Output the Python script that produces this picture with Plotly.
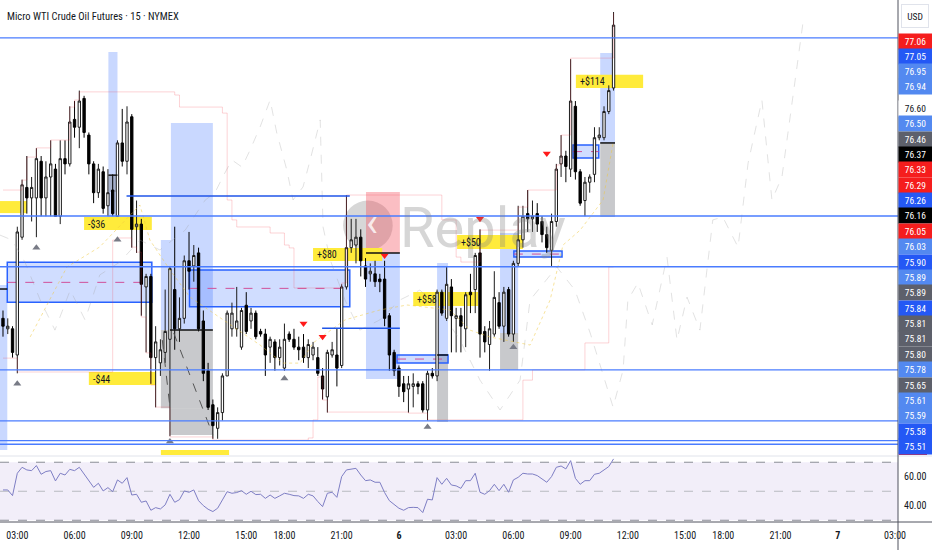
import plotly.graph_objects as go

# ---------------- data ----------------
title_text = "Micro WTI Crude Oil Futures · 15 · NYMEX"

opens = [75.98, 75.94, 75.94, 75.84, 76.29, 76.48, 76.44, 76.44, 76.58, 76.44,
         76.52, 76.55, 76.37, 76.59, 76.57, 76.74, 76.71, 76.82, 76.68, 76.57,
         76.46, 76.54, 76.41, 76.47, 76.37, 76.65, 76.58, 76.75, 76.33, 76.34,
         76.10, 76.14, 75.83, 75.81, 75.85, 75.90, 76.09, 75.94, 75.98, 76.20,
         76.18, 76.23, 75.97, 75.78, 75.65, 75.56, 75.62, 75.76, 75.94, 75.94,
         75.87, 76.03, 75.97, 76.00, 75.93, 75.92, 75.87, 75.89, 75.83, 75.79,
         75.92, 75.90, 75.87, 75.87, 75.83, 75.84, 75.83, 75.76, 75.68, 75.84,
         75.84, 75.80, 76.10, 76.25, 76.26, 76.29, 76.18, 76.15, 76.15, 76.13,
         76.13, 75.99, 75.85, 75.79, 75.73, 75.71, 75.72, 75.73, 75.73, 75.63,
         75.77, 75.76, 76.08, 75.98, 76.10, 75.98, 75.99, 75.94, 76.08, 76.09,
         76.23, 75.93, 75.88, 75.92, 76.04, 75.95, 76.09, 75.92, 76.19, 76.28,
         76.38, 76.36, 76.38, 76.35, 76.30, 76.24, 76.35, 76.57, 76.60, 76.55,
         76.79, 76.54, 76.43, 76.50, 76.53, 76.67, 76.67, 76.77, 76.86]
highs = [76.01, 75.98, 75.95, 76.33, 76.51, 76.60, 76.52, 76.63, 76.60, 76.58,
         76.66, 76.57, 76.66, 76.66, 76.79, 76.81, 76.85, 76.83, 76.69, 76.58,
         76.57, 76.56, 76.55, 76.53, 76.66, 76.78, 76.79, 76.76, 76.43, 76.36,
         76.15, 76.15, 75.95, 75.90, 76.09, 76.18, 76.33, 76.06, 76.22, 76.31,
         76.26, 76.25, 76.01, 75.81, 75.67, 75.64, 75.77, 76.01, 76.04, 76.10,
         76.02, 76.08, 76.02, 76.01, 75.94, 75.94, 75.91, 75.90, 75.90, 75.96,
         75.93, 75.94, 75.91, 75.92, 75.90, 75.89, 75.87, 75.79, 75.86, 75.89,
         75.94, 76.11, 76.45, 76.36, 76.36, 76.32, 76.21, 76.19, 76.20, 76.15,
         76.20, 76.00, 75.86, 75.80, 75.76, 75.76, 75.77, 75.74, 75.74, 75.78,
         75.79, 76.09, 76.09, 76.18, 76.13, 76.02, 76.02, 76.08, 76.15, 76.23,
         76.32, 75.95, 75.97, 76.16, 76.08, 76.10, 76.10, 76.20, 76.41, 76.41,
         76.47, 76.43, 76.42, 76.37, 76.33, 76.38, 76.57, 76.68, 76.62, 76.97,
         76.81, 76.55, 76.52, 76.53, 76.71, 76.71, 76.79, 76.87, 77.15]
lows = [75.91, 75.92, 75.83, 75.77, 76.28, 76.38, 76.35, 76.29, 76.37, 76.37,
        76.37, 76.37, 76.34, 76.53, 76.56, 76.67, 76.63, 76.67, 76.53, 76.42,
        76.44, 76.38, 76.37, 76.37, 76.37, 76.56, 76.53, 76.25, 76.23, 75.99,
        75.85, 75.73, 75.64, 75.76, 75.81, 75.53, 75.86, 75.89, 75.96, 76.09,
        76.12, 75.93, 75.74, 75.63, 75.52, 75.52, 75.59, 75.76, 75.91, 75.91,
        75.86, 75.92, 75.94, 75.90, 75.91, 75.76, 75.81, 75.78, 75.80, 75.78,
        75.89, 75.86, 75.82, 75.81, 75.79, 75.82, 75.76, 75.67, 75.62, 75.83,
        75.72, 75.79, 76.09, 76.23, 76.19, 76.14, 76.10, 76.12, 76.10, 76.08,
        75.95, 75.78, 75.76, 75.68, 75.66, 75.62, 75.64, 75.69, 75.62, 75.59,
        75.75, 75.74, 75.99, 75.97, 75.85, 75.85, 75.85, 75.87, 76.00, 76.00,
        75.83, 75.85, 75.78, 75.91, 75.94, 75.89, 75.91, 75.89, 76.18, 76.25,
        76.31, 76.31, 76.31, 76.27, 76.23, 76.18, 76.33, 76.52, 76.50, 76.52,
        76.51, 76.41, 76.37, 76.46, 76.50, 76.66, 76.66, 76.76, 76.85]
closes = [75.95, 75.95, 75.85, 76.31, 76.49, 76.44, 76.48, 76.59, 76.44, 76.52,
          76.57, 76.37, 76.59, 76.57, 76.73, 76.71, 76.81, 76.69, 76.57, 76.46,
          76.55, 76.40, 76.46, 76.38, 76.65, 76.58, 76.73, 76.32, 76.34, 76.11,
          76.14, 75.83, 75.89, 75.86, 75.93, 76.17, 75.94, 75.98, 76.20, 76.16,
          76.22, 75.94, 75.77, 75.64, 75.57, 75.62, 75.76, 76.00, 76.00, 75.97,
          76.01, 75.93, 76.00, 75.91, 75.92, 75.84, 75.90, 75.83, 75.87, 75.90,
          75.90, 75.87, 75.86, 75.83, 75.88, 75.87, 75.77, 75.71, 75.85, 75.86,
          75.79, 76.10, 76.25, 76.28, 76.29, 76.20, 76.13, 76.16, 76.12, 76.12,
          75.98, 75.84, 75.78, 75.72, 75.70, 75.73, 75.73, 75.72, 75.63, 75.77,
          75.76, 76.08, 76.00, 76.11, 75.99, 75.99, 75.95, 76.07, 76.07, 76.22,
          75.92, 75.89, 75.94, 76.06, 75.95, 76.08, 75.92, 76.19, 76.28, 76.37,
          76.36, 76.37, 76.34, 76.30, 76.25, 76.35, 76.55, 76.60, 76.56, 76.81,
          76.54, 76.42, 76.50, 76.52, 76.67, 76.68, 76.77, 76.85, 77.10]

rsi = [50.9, 50.9, 47.0, 62.4, 66.5, 64.7, 64.2, 67.7, 61.7, 63.6,
       64.2, 57.1, 62.4, 61.2, 65.1, 64.2, 66.5, 61.9, 57.3, 52.7,
       55.5, 50.2, 52.5, 49.7, 57.8, 55.5, 59.4, 47.4, 47.9, 42.4,
       43.3, 36.9, 38.7, 37.8, 40.6, 47.9, 42.4, 44.2, 50.2, 49.3,
       50.9, 43.5, 40.1, 37.6, 36.0, 38.3, 44.0, 49.7, 48.6, 49.1,
       50.4, 47.9, 50.0, 47.7, 47.9, 45.1, 47.4, 45.1, 46.8, 48.6,
       47.9, 47.0, 46.8, 45.1, 47.9, 46.8, 42.9, 39.4, 48.6, 49.3,
       45.8, 60.1, 64.7, 65.1, 65.8, 61.2, 57.3, 57.8, 56.2, 56.2,
       49.1, 43.5, 40.6, 38.3, 36.9, 38.7, 38.9, 38.7, 35.3, 44.5,
       44.0, 59.4, 54.8, 58.9, 54.3, 53.7, 52.0, 57.3, 57.3, 62.4,
       49.3, 47.9, 50.4, 54.8, 50.4, 54.8, 49.3, 57.8, 59.6, 62.4,
       61.9, 61.9, 60.8, 58.5, 56.2, 60.1, 66.5, 67.4, 65.4, 71.1,
       58.9, 54.8, 57.3, 57.3, 61.7, 62.4, 64.7, 67.0, 72.3]

tick_idx = [3, 15, 27, 39, 51, 59, 71, 83, 95, 107, 119, 131, 143, 151, 163, 175, 187]
tick_text = ["03:00", "06:00", "09:00", "12:00", "15:00", "18:00", "21:00", "<b>6</b>",
             "03:00", "06:00", "09:00", "12:00", "15:00", "18:00", "21:00", "<b>7</b>", "03:00"]

# channel (upper / lower) step points
upper_idx = [0, 4, 5, 7, 10, 14, 15, 16, 36, 37, 46, 47, 48, 49, 56, 59, 60, 61, 71, 72,
             92, 95, 96, 100, 108, 110, 116, 117, 119, 128]
upper_val = [76.470, 76.508, 76.596, 76.631, 76.661, 76.787, 76.814, 76.845, 76.833, 76.787,
             76.764, 76.432, 76.356, 76.329, 76.306, 76.260, 76.249, 76.096, 76.115, 76.451,
             76.356, 76.214, 76.195, 76.317, 76.405, 76.470, 76.566, 76.680, 76.974, 77.146]
lower_idx = [0, 3, 23, 24, 27, 28, 29, 30, 31, 32, 35, 44, 64, 65, 66, 67, 68, 85, 89,
             109, 111, 122, 127, 128]
lower_val = [75.828, 75.775, 76.279, 76.287, 76.252, 76.233, 75.985, 75.848, 75.725, 75.641,
             75.527, 75.515, 75.523, 75.592, 75.756, 75.668, 75.622, 75.618, 75.592,
             75.744, 75.783, 75.886, 76.176, 76.176]

# faint dashed "ghost" path
ghost_idx = [-0.63, 1.9, 4.6, 7.8, 10.9, 14.1, 17.2, 20.3, 24.5, 28.7, 32.9, 38.2, 42.4, 44.4,
             46.5, 48.0, 50.1, 51.8, 53.9, 56.0, 57.4, 59.5, 60.8, 62.9, 64.4, 66.5, 67.1, 68.6,
             71.7, 74.8, 79.0, 83.2, 87.4, 91.6, 95.8, 100.0, 104.2, 108.4, 110.5, 116.1, 119.9,
             123.1, 127.9, 130.0, 131.0, 133.1, 136.1, 139.2, 141.3, 143.4, 146.1, 148.8, 150.9,
             154.1, 156.2, 159.1, 161.2, 163.3, 167.7]
ghost_val = [76.298, 76.279, 76.195, 76.050, 75.935, 76.088, 75.974, 76.146, 76.195, 76.279,
             76.241, 76.317, 76.432, 76.459, 76.535, 76.585, 76.558, 76.623, 76.711, 76.814,
             76.688, 76.547, 76.432, 76.482, 76.585, 76.738, 76.329, 76.203, 76.050, 75.935,
             75.974, 76.050, 76.088, 76.012, 75.897, 75.744, 75.630, 75.744, 76.050, 76.176,
             76.088, 75.924, 75.641, 75.783, 76.050, 76.115, 75.955, 76.214, 75.897, 76.061,
             75.935, 76.356, 76.367, 76.252, 76.573, 76.814, 76.432, 76.520, 77.108]

# faint yellow dotted average
avg_idx = [5.7, 13.4, 20.3, 28.7, 30.8, 35.0, 39.2, 48.2, 53.9, 58.7, 62.3, 65.0, 71.7, 79.0,
           84.7, 93.7, 97.9, 102.1, 110.5, 114.7, 117.4, 121.0, 125.8, 127.9]
avg_val = [75.909, 76.176, 76.253, 76.413, 76.279, 76.165, 76.061, 75.947, 75.878, 75.809,
           75.809, 75.886, 75.974, 76.012, 76.031, 76.012, 75.935, 75.909, 75.878, 76.050,
           76.260, 76.317, 76.432, 76.650]

# signal markers
up_sig_idx = [3, 7, 24, 35, 59, 89, 107]
up_sig_val = [75.73, 76.25, 76.28, 75.51, 75.75, 75.565, 75.87]
dn_sig_idx = [63, 67, 80, 100, 114]
dn_sig_val = [75.96, 75.91, 76.22, 76.36, 76.61]

# horizontal level lines (full width) and partial lines
levels = [77.051, 76.371, 76.177, 75.783, 75.588, 75.513, 75.499]
partial_levels = [(25.9, 72.7, 76.447), (66.9, 83.2, 75.942)]

# position-tool zones: (i0, i1, top, bottom, kind)
zones = [(-0.63, 0.9, 76.107, 75.477, "blue"),
         (22.1, 24.0, 76.997, 76.367, "blue"),
         (22.1, 24.0, 76.527, 76.463, "gray"),
         (35.2, 44.0, 76.726, 75.935, "blue"),
         (33.1, 35.2, 76.279, 75.935, "blue"),
         (33.1, 44.0, 75.935, 75.637, "gray"),
         (35.0, 44.0, 75.637, 75.534, "gray"),
         (76.1, 83.2, 76.463, 76.230, "red"),
         (76.1, 83.2, 76.230, 75.748, "blue"),
         (91.0, 93.3, 76.191, 75.840, "blue"),
         (91.0, 93.3, 75.840, 75.584, "gray"),
         (104.2, 108.0, 76.306, 75.924, "blue"),
         (104.2, 108.0, 75.924, 75.783, "gray"),
         (125.2, 128.3, 76.994, 76.650, "blue"),
         (125.2, 128.3, 76.650, 76.367, "gray")]
# outlined boxes with dashed mid line: (i0, i1, top, bottom)
boxes = [(0.9, 31.2, 76.194, 76.041),
         (39.1, 72.7, 76.165, 76.024),
         (82.6, 93.3, 75.840, 75.809),
         (107.1, 117.2, 76.237, 76.214),
         (119.5, 124.9, 76.642, 76.592)]
entry_lines = [(35.0, 44.0, 75.935), (76.1, 83.2, 76.230), (91.0, 93.3, 75.840),
               (125.2, 128.3, 76.650), (22.1, 24.0, 76.527), (-0.63, 0.9, 76.092)]
diag_lines = [(35.8, 75.924, 44.0, 75.534), (33.4, 75.897, 35.0, 75.641)]

# P&L tags: (i0, i1, top, bottom, text)
pnl_tags = [(-0.63, 5.0, 76.428, 76.382, ""),
            (17.0, 31.2, 76.367, 76.317, "-$36"),
            (18.0, 32.1, 75.775, 75.725, "-$44"),
            (65.0, 79.5, 76.249, 76.199, "+$80"),
            (95.2, 109.0, 76.298, 76.245, "+$50"),
            (86.0, 99.6, 76.081, 76.027, "+$58"),
            (120.1, 134.2, 76.910, 76.860, "+$114"),
            (33.1, 47.4, 75.477, 75.440, "")]

# right-hand price scale labels (stacked) and their colours
top_labels = ["77.06", "77.05", "76.95", "76.94"]
top_colors = ["red", "blue", "lblue", "lblue"]
stack_labels = ["76.60", "76.50", "76.46", "76.37", "76.33", "76.29", "76.26", "76.16", "76.05",
                "76.03", "75.90", "75.89", "75.89", "75.84", "75.81", "75.81", "75.80", "75.78",
                "75.65", "75.61", "75.59", "75.58", "75.51"]
stack_colors = ["white", "lblue", "gray", "black", "red", "red", "blue", "black", "red",
                "lblue", "blue", "lblue", "gray", "blue", "gray", "gray", "gray", "lblue",
                "gray", "lblue", "lblue", "blue", "blue"]

# ---------------- styling ----------------
W, H = 932, 550
ML, MR, MT, MB = 0, 34, 0, 28
PW, PH = W - ML - MR, H - MT - MB       # 898 x 522
FONT = "Liberation Sans Narrow, Arial Narrow, Roboto Condensed, Roboto, Liberation Sans, Arial"
TXT = "#131722"
BLUE = "#2962ff"
fills = {"blue": "rgba(41,98,255,0.25)", "gray": "rgba(110,112,120,0.38)",
         "red": "rgba(242,54,69,0.32)"}
lab_bg = {"red": "#f51d1d", "blue": "#2458f5", "lblue": "#5389f0", "gray": "#5d606b",
          "black": "#000000", "white": "#ffffff"}

main_bottom_px = 455
rsi_top_px = 456
X_RANGE = [-0.627, 187.63]
Y_RANGE = [75.458, 77.196]
Y2_RANGE = [28.8, 74.3]


def py(px):
    return (PH - px) / PH


def px_x(px):
    return px / PW


fig = go.Figure()
idx = list(range(len(opens)))

fig.add_trace(go.Scatter(x=ghost_idx, y=ghost_val, mode="lines",
                         line=dict(color="rgba(160,160,160,0.3)", width=1, dash="dash"),
                         hoverinfo="skip", showlegend=False))
fig.add_trace(go.Scatter(x=upper_idx, y=upper_val, mode="lines", line_shape="hv",
                         line=dict(color="rgba(242,54,69,0.22)", width=1),
                         hoverinfo="skip", showlegend=False))
fig.add_trace(go.Scatter(x=lower_idx, y=lower_val, mode="lines", line_shape="hv",
                         line=dict(color="rgba(242,54,69,0.22)", width=1),
                         hoverinfo="skip", showlegend=False))
fig.add_trace(go.Scatter(x=avg_idx, y=avg_val, mode="lines",
                         line=dict(color="rgba(240,200,60,0.5)", width=1, dash="dot"),
                         hoverinfo="skip", showlegend=False))

fig.add_trace(go.Candlestick(
    x=idx, open=opens, high=highs, low=lows, close=closes,
    increasing=dict(line=dict(color="#1c1c1c", width=1), fillcolor="#ffffff"),
    decreasing=dict(line=dict(color="#000000", width=1), fillcolor="#000000"),
    whiskerwidth=0, hoverinfo="skip", showlegend=False))

fig.add_trace(go.Scatter(x=up_sig_idx, y=up_sig_val, mode="markers",
                         marker=dict(symbol="triangle-up", size=7, color="#787b86"),
                         hoverinfo="skip", showlegend=False))
fig.add_trace(go.Scatter(x=dn_sig_idx, y=dn_sig_val, mode="markers",
                         marker=dict(symbol="triangle-down", size=7, color="#ff1a1a"),
                         hoverinfo="skip", showlegend=False))

fig.add_trace(go.Scatter(x=idx, y=rsi, mode="lines", xaxis="x", yaxis="y2",
                         line=dict(color="#7e7ec4", width=1),
                         hoverinfo="skip", showlegend=False))

shapes = []
# RSI band and levels
shapes.append(dict(type="rect", xref="paper", yref="y2", x0=0, x1=1, y0=30, y1=70,
                   fillcolor="rgba(126,87,194,0.10)", line=dict(width=0), layer="below"))
for lv, col, dsh in [(70, "#8a8d96", "dash"), (30, "#8a8d96", "dash"), (50, "#b8bac0", "dash")]:
    shapes.append(dict(type="line", xref="paper", yref="y2", x0=0, x1=1, y0=lv, y1=lv,
                       line=dict(color=col, width=1, dash=dsh), layer="below"))

# watermark logo
shapes.append(dict(type="circle", xref="x", yref="y", x0=71.3, x1=81.7, y0=76.24, y1=76.43,
                   fillcolor="rgba(140,140,140,0.35)", line=dict(width=0), layer="below"))

for (a, b, t, btm, kind) in zones:
    shapes.append(dict(type="rect", xref="x", yref="y", x0=a, x1=b, y0=btm, y1=t,
                       fillcolor=fills[kind], line=dict(width=0), layer="below"))
for (a, b, t, btm) in boxes:
    shapes.append(dict(type="rect", xref="x", yref="y", x0=a, x1=b, y0=btm, y1=t,
                       fillcolor="rgba(41,98,255,0.22)", line=dict(color=BLUE, width=1.5),
                       layer="below"))
    m = (t + btm) / 2
    shapes.append(dict(type="line", xref="x", yref="y", x0=a, x1=b, y0=m, y1=m,
                       line=dict(color="#d0509a", width=1, dash="dash"), layer="below"))
for (a, b, t, btm, txt) in pnl_tags:
    shapes.append(dict(type="rect", xref="x", yref="y", x0=a, x1=b, y0=btm, y1=t,
                       fillcolor="#ffeb3b", line=dict(width=0), layer="below"))
for (a, b, lv) in entry_lines:
    shapes.append(dict(type="line", xref="x", yref="y", x0=a, x1=b, y0=lv, y1=lv,
                       line=dict(color="#111111", width=1.5), layer="above"))
for (a, pa, b, pb) in diag_lines:
    shapes.append(dict(type="line", xref="x", yref="y", x0=a, x1=b, y0=pa, y1=pb,
                       line=dict(color="#555555", width=1, dash="dash"), layer="above"))
for lv in levels:
    shapes.append(dict(type="line", xref="paper", yref="y", x0=0, x1=1, y0=lv, y1=lv,
                       line=dict(color="#4a7cff", width=1.3), layer="above"))
for (a, b, lv) in partial_levels:
    shapes.append(dict(type="line", xref="x", yref="y", x0=a, x1=b, y0=lv, y1=lv,
                       line=dict(color="#1f55e8", width=1.5), layer="above"))

# frame lines
shapes.append(dict(type="line", xref="paper", yref="paper", x0=0, x1=W / PW,
                   y0=py(rsi_top_px), y1=py(rsi_top_px), line=dict(color="#e0e3eb", width=1)))
shapes.append(dict(type="line", xref="paper", yref="paper", x0=0, x1=W / PW, y0=0, y1=0,
                   line=dict(color="#50535e", width=1)))
shapes.append(dict(type="line", xref="paper", yref="paper", x0=1, x1=1, y0=-MB / PH, y1=1,
                   line=dict(color="#50535e", width=1)))
shapes.append(dict(type="rect", xref="paper", yref="paper", x0=1.001, x1=px_x(927),
                   y0=py(455), y1=py(452), fillcolor="#f51d1d", line=dict(width=0)))

annotations = []
annotations.append(dict(text=title_text, xref="paper", yref="paper", x=px_x(5), y=py(16),
                        xanchor="left", yanchor="middle", showarrow=False,
                        font=dict(family=FONT, size=10.5, color=TXT)))
annotations.append(dict(text="USD", xref="paper", yref="paper", x=px_x(915), y=py(16),
                        xanchor="center", yanchor="middle", showarrow=False,
                        bordercolor="#e0e3eb", borderwidth=1, bgcolor="#ffffff",
                        width=24, height=20, font=dict(family=FONT, size=9.5, color=TXT)))
annotations.append(dict(text="Replay", xref="x", yref="y", x=82.9, y=76.325,
                        xanchor="left", yanchor="middle", showarrow=False,
                        font=dict(family="Roboto, Liberation Sans", size=56,
                                  color="rgba(130,130,130,0.33)")))
annotations.append(dict(text="‹", xref="x", yref="y", x=77.4, y=76.345,
                        xanchor="center", yanchor="middle", showarrow=False,
                        font=dict(family="Roboto", size=40, color="rgba(255,255,255,0.8)")))

for (a, b, t, btm, txt) in pnl_tags:
    if txt:
        annotations.append(dict(text=txt, xref="x", yref="y", x=a + 0.4, y=(t + btm) / 2,
                                xanchor="left", yanchor="middle", showarrow=False,
                                font=dict(family=FONT, size=10, color=TXT)))


def add_label(text, colkey, ypx):
    annotations.append(dict(text=text, xref="paper", yref="paper", x=1.0, y=py(ypx),
                            xanchor="left", yanchor="middle", showarrow=False,
                            bgcolor=lab_bg[colkey], width=31, height=13, borderpad=1,
                            font=dict(family=FONT, size=9.5,
                                      color=TXT if colkey == "white" else "#ffffff")))


for k, (t, c) in enumerate(zip(top_labels, top_colors)):
    add_label(t, c, 41.7 + 15.0 * k)
for k, (t, c) in enumerate(zip(stack_labels, stack_colors)):
    add_label(t, c, 108.3 + 15.38 * k)

fig.update_layout(
    width=W, height=H, margin=dict(l=ML, r=MR, t=MT, b=MB),
    paper_bgcolor="#ffffff", plot_bgcolor="#ffffff",
    showlegend=False, hovermode=False,
    font=dict(family=FONT, size=10, color=TXT),
    xaxis=dict(domain=[0, 1], range=X_RANGE, anchor="y2", tickmode="array",
               tickvals=tick_idx, ticktext=tick_text, showgrid=False, zeroline=False,
               showline=False, ticks="", ticklabelstandoff=6,
               tickfont=dict(family=FONT, size=10, color=TXT),
               rangeslider=dict(visible=False), fixedrange=True),
    yaxis=dict(domain=[py(main_bottom_px), 1], range=Y_RANGE, showgrid=False,
               zeroline=False, showticklabels=False, showline=False, ticks="",
               fixedrange=True),
    yaxis2=dict(domain=[0, py(rsi_top_px)], range=Y2_RANGE, side="right",
                tickmode="array", tickvals=[40, 60], ticktext=["40.00", "60.00"],
                showgrid=False, zeroline=False, showline=False, ticks="",
                ticklabelstandoff=5, tickfont=dict(family=FONT, size=10, color=TXT),
                fixedrange=True),
    shapes=shapes, annotations=annotations,
)

fig.write_html("out.html", config={"displayModeBar": False},
               post_script="document.body.style.margin='0px';"
                           "document.body.style.overflow='hidden';")
